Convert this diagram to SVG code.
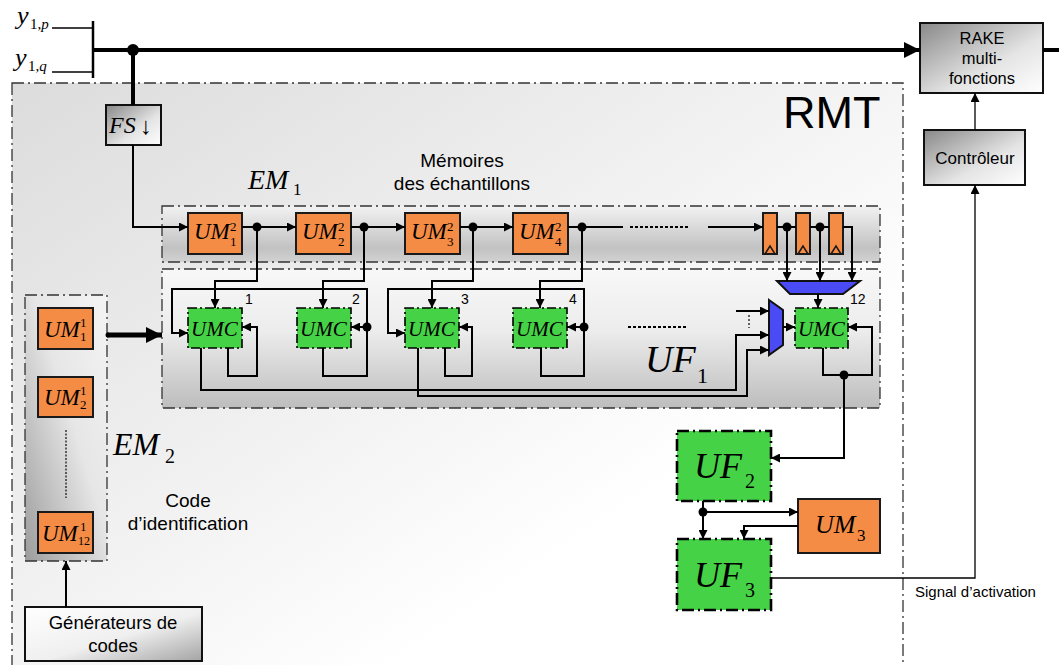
<svg xmlns="http://www.w3.org/2000/svg" width="1059" height="665" viewBox="0 0 1059 665">
<defs>
<linearGradient id="gRMT" x1="0" y1="0" x2="1" y2="1"><stop offset="0" stop-color="#dcdcdc"/><stop offset="0.45" stop-color="#f2f2f2"/><stop offset="0.7" stop-color="#ffffff"/></linearGradient>
<linearGradient id="gEM1" x1="0" y1="0" x2="0" y2="1"><stop offset="0" stop-color="#f2f2f2"/><stop offset="0.75" stop-color="#c2c2c2"/><stop offset="1" stop-color="#d2d2d2"/></linearGradient>
<linearGradient id="gUF1" x1="0" y1="0" x2="0" y2="1"><stop offset="0" stop-color="#f8f8f8"/><stop offset="0.45" stop-color="#ececec"/><stop offset="1" stop-color="#bdbdbd"/></linearGradient>
<linearGradient id="gEM2" x1="0" y1="1" x2="1" y2="0"><stop offset="0" stop-color="#9c9c9c"/><stop offset="0.55" stop-color="#e6e6e6"/><stop offset="1" stop-color="#f4f4f4"/></linearGradient>
<linearGradient id="gDark" x1="0" y1="0" x2="1" y2="1"><stop offset="0" stop-color="#888888"/><stop offset="0.6" stop-color="#e4e4e4"/><stop offset="1" stop-color="#ffffff"/></linearGradient>
<linearGradient id="gGen" x1="0" y1="0" x2="1" y2="1"><stop offset="0" stop-color="#ffffff"/><stop offset="0.55" stop-color="#efefef"/><stop offset="1" stop-color="#a4a4a4"/></linearGradient>
<marker id="ah" viewBox="0 0 10 10" refX="10" refY="5" markerWidth="9" markerHeight="9" markerUnits="userSpaceOnUse" orient="auto"><path d="M0,0 L10,5 L0,10 z" fill="#000"/></marker>
<marker id="ahBig" viewBox="0 0 10 10" refX="10" refY="5" markerWidth="16" markerHeight="18" markerUnits="userSpaceOnUse" orient="auto"><path d="M0,0 L10,5 L0,10 z" fill="#000"/></marker>
<style>
.frame{fill:none;stroke:#333;stroke-width:1.3;stroke-dasharray:12 4 2 4}
.w{fill:none;stroke:#000;stroke-width:2}
.t{fill:none;stroke:#000;stroke-width:1.3}
.a{marker-end:url(#ah)}
.um{fill:#F58C45;stroke:#1a1a1a;stroke-width:2}
.umc{fill:#46D246;stroke:#000;stroke-width:1.6;stroke-dasharray:9 3 2 3}
.uf{fill:#46D246;stroke:#000;stroke-width:2.6;stroke-dasharray:12 4 2 4}
.mux{fill:#4B4BF5;stroke:#111;stroke-width:2}
.box{stroke:#111;stroke-width:2}
.it{font-family:"Liberation Serif","Times New Roman",serif;font-style:italic;fill:#000}
.rm{font-family:"Liberation Serif","Times New Roman",serif;fill:#000}
.sans{font-family:"Liberation Sans",Arial,sans-serif;fill:#000}
.dot{fill:#000}
</style>
</defs>

<rect x="0" y="0" width="1059" height="665" fill="#ffffff"/>

<!-- RMT region -->
<g id="rmt">
<rect x="12" y="83" width="891" height="600" fill="url(#gRMT)"/>
<rect x="12" y="83" width="891" height="600" class="frame"/>
<text x="783" y="128" class="sans" font-size="45">RMT</text>
</g>

<!-- EM1 block -->
<g id="em1">
<rect x="162" y="206" width="718" height="56" fill="url(#gEM1)"/>
<rect x="162" y="206" width="718" height="56" class="frame"/>
<text x="248" y="189" class="it" font-size="28">EM</text>
<text x="293" y="195" class="rm" font-size="17">1</text>
<text x="462" y="167" class="sans" font-size="19" text-anchor="middle">Mémoires</text>
<text x="462" y="190" class="sans" font-size="19" text-anchor="middle">des échantillons</text>
</g>

<!-- UF1 block -->
<g id="uf1">
<rect x="162" y="269" width="718" height="139" fill="url(#gUF1)"/>
<rect x="162" y="269" width="718" height="139" class="frame"/>
<text x="645" y="372" class="it" font-size="38">UF</text>
<text x="697" y="383" class="rm" font-size="22">1</text>
</g>

<!-- EM2 block -->
<g id="em2">
<rect x="25" y="295" width="82" height="266" fill="url(#gEM2)"/>
<rect x="25" y="295" width="82" height="266" class="frame"/>
<line x1="66" y1="430" x2="66" y2="498" stroke="#333" stroke-width="1.5" stroke-dasharray="2 1.5"/>
<text x="113" y="455" class="it" font-size="32">EM</text>
<text x="165" y="463" class="rm" font-size="20">2</text>
<text x="188" y="507" class="sans" font-size="19" text-anchor="middle">Code</text>
<text x="188" y="530" class="sans" font-size="19" text-anchor="middle">d’identification</text>
</g>

<!-- Input labels -->
<g id="inputs">
<text x="17" y="24" class="it" font-size="26">y</text>
<text x="30" y="29" class="rm" font-size="15">1,<tspan font-style="italic">p</tspan></text>
<text x="15" y="66" class="it" font-size="26">y</text>
<text x="28" y="71" class="rm" font-size="15">1,<tspan font-style="italic">q</tspan></text>
</g>

<!-- FS -->
<g id="fs">
<rect x="106" y="105" width="55" height="40" fill="url(#gDark)" class="box"/>
<text x="109" y="133" class="it" font-size="24">FS</text>
<text x="140" y="134" class="rm" font-size="24">↓</text>
</g>

<!-- RAKE -->
<g id="rake">
<rect x="920" y="23" width="123" height="70" fill="url(#gDark)" class="box"/>
<text x="982" y="44" class="sans" font-size="16.5" text-anchor="middle">RAKE</text>
<text x="982" y="64" class="sans" font-size="16.5" text-anchor="middle">multi-</text>
<text x="982" y="84" class="sans" font-size="16.5" text-anchor="middle">fonctions</text>
</g>

<!-- Controleur -->
<g id="controleur">
<rect x="924" y="130" width="101" height="55" fill="url(#gDark)" class="box"/>
<text x="975" y="164" class="sans" font-size="17" text-anchor="middle">Contrôleur</text>
</g>

<!-- Generateurs -->
<g id="generateurs">
<rect x="25" y="607" width="177" height="54" fill="url(#gGen)" class="box"/>
<text x="113" y="629" class="sans" font-size="18.5" text-anchor="middle">Générateurs de</text>
<text x="113" y="652" class="sans" font-size="18.5" text-anchor="middle">codes</text>
</g>

<!-- EM1 memories -->
<g id="um2_1"><rect x="188" y="213" width="54" height="41" class="um"/><text x="194" y="239" class="it" font-size="23">UM</text><text x="230" y="231" class="rm" font-size="13">2</text><text x="230" y="246" class="rm" font-size="13">1</text></g>
<g id="um2_2"><rect x="296" y="213" width="55" height="41" class="um"/><text x="302" y="239" class="it" font-size="23">UM</text><text x="338" y="231" class="rm" font-size="13">2</text><text x="338" y="246" class="rm" font-size="13">2</text></g>
<g id="um2_3"><rect x="405" y="213" width="55" height="41" class="um"/><text x="411" y="239" class="it" font-size="23">UM</text><text x="447" y="231" class="rm" font-size="13">2</text><text x="447" y="246" class="rm" font-size="13">3</text></g>
<g id="um2_4"><rect x="513" y="213" width="55" height="41" class="um"/><text x="519" y="239" class="it" font-size="23">UM</text><text x="555" y="231" class="rm" font-size="13">2</text><text x="555" y="246" class="rm" font-size="13">4</text></g>

<!-- registers -->
<g id="reg1"><rect x="763" y="213" width="14" height="41" class="um"/><polyline points="765,254 770,246 775,254" fill="none" stroke="#1a1a1a" stroke-width="1.5"/></g>
<g id="reg2"><rect x="796" y="213" width="14" height="41" class="um"/><polyline points="798,254 803,246 808,254" fill="none" stroke="#1a1a1a" stroke-width="1.5"/></g>
<g id="reg3"><rect x="829" y="213" width="14" height="41" class="um"/><polyline points="831,254 836,246 841,254" fill="none" stroke="#1a1a1a" stroke-width="1.5"/></g>

<!-- muxes -->
<g id="mux1"><polygon points="777,281 860,281 843,294 790,294" class="mux"/></g>
<g id="mux2"><polygon points="769,300 783,310 783,345 769,355" class="mux"/></g>

<!-- UMC units -->
<g id="umc1"><rect x="188" y="308" width="54" height="40" class="umc"/><text x="191" y="336" class="it" font-size="21">UMC</text><text x="245" y="304" class="sans" font-size="14">1</text></g>
<g id="umc2"><rect x="297" y="308" width="54" height="40" class="umc"/><text x="300" y="336" class="it" font-size="21">UMC</text><text x="352" y="304" class="sans" font-size="14">2</text></g>
<g id="umc3"><rect x="405" y="308" width="54" height="40" class="umc"/><text x="408" y="336" class="it" font-size="21">UMC</text><text x="461" y="304" class="sans" font-size="14">3</text></g>
<g id="umc4"><rect x="513" y="308" width="54" height="40" class="umc"/><text x="516" y="336" class="it" font-size="21">UMC</text><text x="569" y="304" class="sans" font-size="14">4</text></g>
<g id="umc12"><rect x="795" y="308" width="53" height="40" class="umc"/><text x="798" y="336" class="it" font-size="21">UMC</text><text x="850" y="304" class="sans" font-size="14">12</text></g>

<!-- EM2 memories -->
<g id="um1_1"><rect x="38" y="308" width="55" height="41" class="um"/><text x="44" y="337" class="it" font-size="23">UM</text><text x="80" y="327" class="rm" font-size="13">1</text><text x="80" y="341" class="rm" font-size="13">1</text></g>
<g id="um1_2"><rect x="38" y="377" width="55" height="40" class="um"/><text x="44" y="405" class="it" font-size="23">UM</text><text x="80" y="395" class="rm" font-size="13">1</text><text x="80" y="409" class="rm" font-size="13">2</text></g>
<g id="um1_12"><rect x="38" y="512" width="55" height="41" class="um"/><text x="42" y="541" class="it" font-size="23">UM</text><text x="80" y="531" class="rm" font-size="13">1</text><text x="78" y="545" class="rm" font-size="12">12</text></g>

<!-- UF2, UF3, UM3 -->
<g id="uf2"><rect x="677" y="431" width="94" height="70" class="uf"/><text x="694" y="478" class="it" font-size="36">UF</text><text x="745" y="488" class="rm" font-size="20">2</text></g>
<g id="uf3"><rect x="677" y="539" width="94" height="71" class="uf"/><text x="694" y="587" class="it" font-size="36">UF</text><text x="745" y="597" class="rm" font-size="20">3</text></g>
<g id="um3"><rect x="798" y="499" width="82" height="54" class="um"/><text x="815" y="533" class="it" font-size="26">UM</text><text x="857" y="541" class="rm" font-size="17">3</text></g>

<g id="signal-label"><text x="915" y="597" class="sans" font-size="15">Signal d’activation</text></g>

<!-- connectors -->
<g id="connectors">
<line x1="52" y1="28" x2="93" y2="28" stroke="#000" stroke-width="1.5"/>
<line x1="52" y1="72" x2="93" y2="72" stroke="#000" stroke-width="1.5"/>
<line x1="93" y1="21" x2="93" y2="78" stroke="#000" stroke-width="2.5"/>
<line x1="93" y1="50" x2="920" y2="50" stroke="#000" stroke-width="4" marker-end="url(#ahBig)"/>
<circle cx="133" cy="50" r="6" class="dot"/>
<line x1="133" y1="50" x2="133" y2="105" stroke="#000" stroke-width="4"/>
<line x1="1043" y1="50" x2="1059" y2="50" stroke="#000" stroke-width="4"/>

<polyline points="133,145 133,227 188,227" class="w a"/>
<line x1="242" y1="227" x2="296" y2="227" class="w a"/>
<line x1="351" y1="227" x2="405" y2="227" class="w a"/>
<line x1="460" y1="227" x2="513" y2="227" class="w a"/>
<line x1="568" y1="227" x2="623" y2="227" class="w"/>
<line x1="630" y1="227" x2="690" y2="227" class="w" stroke-dasharray="3 2"/>
<line x1="708" y1="227" x2="763" y2="227" class="w a"/>
<line x1="777" y1="227" x2="796" y2="227" class="w"/>
<line x1="810" y1="227" x2="829" y2="227" class="w"/>
<circle cx="257" cy="227" r="4.5" class="dot"/>
<circle cx="364" cy="227" r="4.5" class="dot"/>
<circle cx="473" cy="227" r="4.5" class="dot"/>
<circle cx="582" cy="227" r="4.5" class="dot"/>
<circle cx="787" cy="227" r="4.5" class="dot"/>
<circle cx="820" cy="227" r="4.5" class="dot"/>

<polyline points="257,227 257,281 215,281 215,308" class="w a"/>
<polyline points="364,227 364,281 323,281 323,308" class="w a"/>
<polyline points="473,227 473,281 432,281 432,308" class="w a"/>
<polyline points="582,227 582,281 540,281 540,308" class="w a"/>
<line x1="787" y1="227" x2="787" y2="281" class="w a"/>
<line x1="820" y1="227" x2="820" y2="281" class="w a"/>
<polyline points="843,227 852,227 852,281" class="w a"/>
<line x1="818" y1="294" x2="818" y2="308" class="w a"/>

<polyline points="367,327 367,289 172,289 172,333 188,333" class="w a"/>
<polyline points="228,348 228,376 257,376 257,327 242,327" class="w a"/>
<polyline points="323,348 323,376 367,376 367,327 351,327" class="w a"/>
<circle cx="367" cy="327" r="4.5" class="dot"/>
<polyline points="584,327 584,289 388,289 388,333 405,333" class="w a"/>
<polyline points="445,348 445,376 472,376 472,327 459,327" class="w a"/>
<polyline points="541,348 541,376 584,376 584,327 567,327" class="w a"/>
<circle cx="584" cy="327" r="4.5" class="dot"/>

<polyline points="201,348 201,390 736,390 736,335 769,335" class="w a"/>
<polyline points="418,348 418,396 747,396 747,350 769,350" class="w a"/>
<line x1="736" y1="311" x2="769" y2="311" class="w a"/>
<line x1="749" y1="315" x2="749" y2="328" stroke="#333" stroke-width="1.5" stroke-dasharray="2 2"/>
<line x1="628" y1="327" x2="688" y2="327" class="w" stroke-dasharray="3 2"/>
<line x1="783" y1="327" x2="795" y2="327" class="w a"/>
<polyline points="823,348 823,375 872,375 872,327 848,327" class="w a"/>
<circle cx="844" cy="375" r="4.5" class="dot"/>
<polyline points="844,375 844,458 771,458" class="w a"/>

<line x1="703" y1="501" x2="703" y2="539" class="w a"/>
<circle cx="703" cy="512" r="4.5" class="dot"/>
<line x1="703" y1="512" x2="798" y2="512" class="w a"/>
<polyline points="798,526 744,526 744,539" class="w a"/>

<polyline points="771,578 975,578 975,185" class="t a"/>
<line x1="975" y1="130" x2="975" y2="93" class="t a"/>

<circle cx="108" cy="335" r="2.5" class="dot"/>
<line x1="107" y1="335" x2="162" y2="335" stroke="#000" stroke-width="5" marker-end="url(#ahBig)"/>
<line x1="66" y1="607" x2="66" y2="561" class="w a"/>
</g>
</svg>
